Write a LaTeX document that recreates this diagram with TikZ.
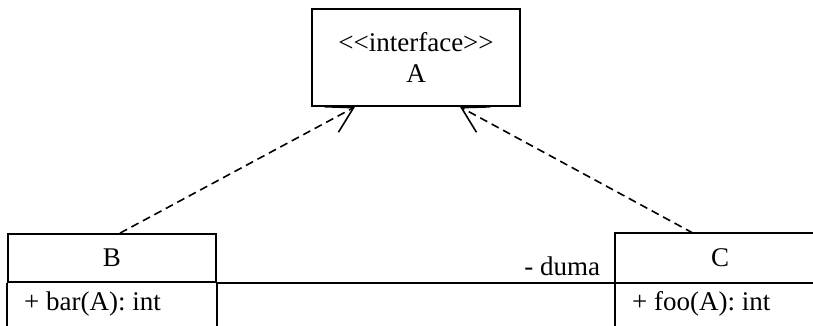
\documentclass[tikz,border=0pt]{standalone}
\usepackage{fontspec}
\newfontfamily\umlfont{Liberation Serif}
\usetikzlibrary{arrows.meta}
\begin{document}
\begin{tikzpicture}[x=1pt, y=-1pt, line width=1.8pt,
	every node/.style={font=\umlfont\fontsize{27}{31}\selectfont},
	classbox/.style={draw, rectangle, minimum width=208pt, align=center},
	realize/.style={dashed, dash pattern=on 8pt off 5pt, line width=1.6pt,
		-{Straight Barb[length=25pt, width=29pt]}}]
	\useasboundingbox (0,0) rectangle (813,326);
	\coordinate (edge) at (813,326);
	\node[classbox, minimum height=97pt] (A) at (416,57.5) {<<interface>>\\A};
	\node[classbox, minimum height=48pt] (Bh) at (112,258) {B};
	\node[rectangle, minimum width=208pt, minimum height=48pt] (Ch) at (720,258) {C};
	\draw (Ch.north west -| edge) -- (Ch.north west) -- (Ch.north west |- edge);
	\draw (Bh.south west) -- (Bh.south west |- edge);
	\draw (Bh.south east) -- (Bh.south east |- edge);
	\node[anchor=west] (Bop) at (20,304) {+ bar(A): int};
	\node[anchor=west] (Cop) at (628,304) {+ foo(A): int};
	\draw (Bh.south east) -- (Bh.south east -| edge)
		node[pos=0.67, anchor=south east, xshift=-12pt, yshift=3pt] (duma) {- duma};
	\draw[realize] ([xshift=8pt]Bh.north) -- ([xshift=-61pt]A.south);
	\draw[realize] ([xshift=-27pt]Ch.north) -- ([xshift=44pt]A.south);
\end{tikzpicture}
\end{document}
